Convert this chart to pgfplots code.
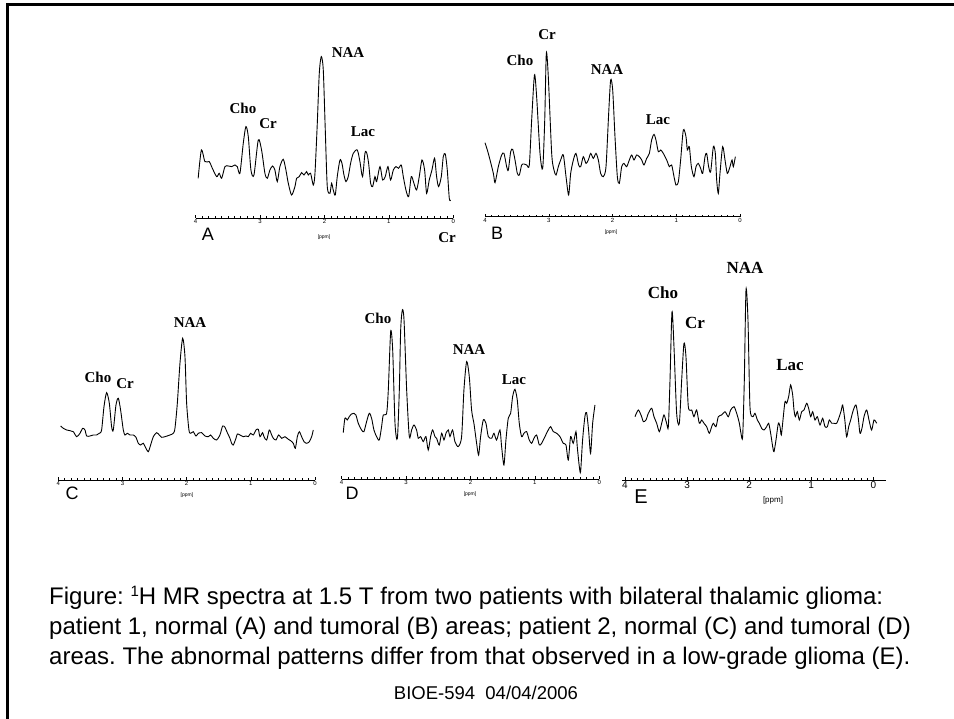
\documentclass[border=0pt]{standalone}
\usepackage{pgfplots}
\pgfplotsset{compat=1.18}
\usepackage{fontspec}
\setmainfont{Liberation Sans}
\newfontfamily\serifb{Liberation Serif}
\frenchspacing

% one MR spectrum: ppm runs right to left, height in px above the scale line
\pgfplotsset{spec/.style={
  anchor=south west, clip=false,
  x dir=reverse, y=1pt,
  axis y line=none, axis x line*=bottom,
  xmin=0, xmax=4, ymin=0, ymax=190,
  xtick={0,1,2,3,4}, minor x tick num=9,
  tick align=inside, major tick length=3pt, minor tick length=2pt,
  every tick/.style={black, line width=0.5pt},
  axis line style={black, line width=0.8pt},
  tick label style={font=\fontsize{6}{6}\selectfont, inner sep=1pt},
  /pgf/number format/assume math mode=true,
  every axis plot post/.append style={black, line width=0.9pt, mark=none, smooth, tension=0.45},
}}
\newcommand{\met}[1]{\serifb\bfseries\fontsize{15}{15}\selectfont #1}
\newcommand{\mete}[1]{\serifb\bfseries\fontsize{17}{17}\selectfont #1}
\newcommand{\ppm}{\fontsize{5}{5}\selectfont [ppm]}

\begin{document}
\begin{tikzpicture}[x=1pt,y=1pt]
\path[use as bounding box] (0,0) rectangle (954,719);
\draw[line width=3pt] (7,0) -- (7,714) -- (954,714);

% A
\begin{axis}[spec, at={(195.6pt,500.7pt)}, x=64.42pt]
\addplot coordinates {(3.96,40)(3.91,68.3)(3.855,56.7)(3.788,56.7)(3.752,51.7)(3.674,41.7)(3.633,45)(3.596,40)(3.544,51.7)(3.493,52.3)(3.441,51.7)(3.389,53.3)(3.353,51.7)(3.312,45)(3.26,75)(3.219,91.7)(3.182,81.7)(3.141,48.3)(3.094,43.3)(3.027,78.3)(2.976,68.3)(2.924,45)(2.887,40)(2.846,48.3)(2.805,52.3)(2.769,48.3)(2.732,36.7)(2.691,51.7)(2.639,59)(2.598,48.3)(2.561,35)(2.51,23.3)(2.458,31.7)(2.432,40)(2.391,41.7)(2.354,45.7)(2.318,43.3)(2.277,46.7)(2.251,43.3)(2.215,45)(2.173,33.3)(2.147,45)(2.111,95)(2.08,145)(2.049,161.7)(2.018,148.3)(1.987,88.3)(1.956,31.7)(1.915,25)(1.889,35)(1.863,28.3)(1.832,23.3)(1.801,41.7)(1.759,58.3)(1.728,55)(1.697,43.3)(1.666,36.7)(1.63,41.7)(1.594,55)(1.552,65)(1.49,68.3)(1.449,56.7)(1.408,41.7)(1.371,65)(1.345,65.7)(1.314,55)(1.283,35)(1.252,31.7)(1.216,41.7)(1.19,36.7)(1.138,51.7)(1.097,38.3)(1.056,41.7)(1.014,51.7)(0.973,38.3)(0.931,48.3)(0.89,51.7)(0.849,50)(0.807,53.3)(0.776,41.7)(0.735,28.3)(0.693,21.7)(0.652,41.7)(0.611,35)(0.569,28.3)(0.528,41.7)(0.486,58.3)(0.445,48.3)(0.414,25)(0.373,38.3)(0.331,48.3)(0.29,60)(0.259,41.7)(0.228,31.7)(0.186,41.7)(0.155,61.7)(0.124,64.3)(0.093,48.3)(0.062,20)(0.041,18.3)};
\end{axis}

% B
\begin{axis}[spec, at={(485pt,502.3pt)}, x=63.75pt]
\addplot coordinates {(4.0,74)(3.948,63.3)(3.869,43.3)(3.843,34)(3.791,50)(3.739,61.7)(3.702,63.3)(3.66,50)(3.634,46.7)(3.597,65)(3.566,67.3)(3.529,56.7)(3.493,43.3)(3.461,41.7)(3.425,51.7)(3.388,52.7)(3.346,51.7)(3.305,51.7)(3.268,96.7)(3.224,141.7)(3.19,120)(3.137,63.3)(3.095,48.3)(3.063,96.7)(3.038,163.3)(3.007,140)(2.954,63.3)(2.918,46.7)(2.886,41.7)(2.85,50)(2.813,56.7)(2.771,61.7)(2.729,40)(2.688,21.7)(2.656,43.3)(2.614,56.7)(2.573,63.3)(2.531,51.7)(2.499,50)(2.458,60)(2.416,53.3)(2.379,56.7)(2.342,63.3)(2.301,58.3)(2.259,63.3)(2.222,56.7)(2.186,43.3)(2.144,40)(2.102,50)(2.06,103.3)(2.029,136.7)(1.997,126.7)(1.961,80)(1.924,40)(1.893,33.3)(1.856,50)(1.82,53.3)(1.778,50)(1.736,56.7)(1.699,61.7)(1.663,56.7)(1.621,61.7)(1.579,60)(1.542,56.7)(1.506,51.7)(1.464,58.3)(1.422,63.3)(1.386,76.7)(1.349,82.3)(1.318,76.7)(1.281,65)(1.244,66.7)(1.203,63.3)(1.15,56.7)(1.108,50)(1.072,51.7)(1.035,40)(1.004,31.7)(0.967,35)(0.931,56.7)(0.889,86.7)(0.847,80)(0.826,66.7)(0.795,70)(0.763,50)(0.722,40)(0.69,50)(0.654,53.3)(0.617,48.3)(0.586,43.3)(0.549,60)(0.523,63.3)(0.492,50)(0.46,45)(0.418,70)(0.387,63.3)(0.366,36.7)(0.34,23.3)(0.314,43.3)(0.272,70)(0.235,56.7)(0.199,43.3)(0.157,50)(0.125,56.7)(0.105,50)(0.073,60)};
\end{axis}

% C
\begin{axis}[spec, at={(58.3pt,239pt)}, x=64.17pt]
\addplot coordinates {(3.964,54)(3.922,51.7)(3.87,50)(3.818,49.3)(3.766,48.3)(3.714,43.3)(3.662,46.7)(3.621,51.7)(3.584,50)(3.558,44)(3.506,44)(3.455,45)(3.403,45)(3.361,46.7)(3.325,50)(3.288,73.3)(3.247,87.3)(3.205,76.7)(3.169,53.3)(3.143,50)(3.101,75)(3.065,81.7)(3.029,70)(2.987,50)(2.961,45)(2.925,46.7)(2.883,45)(2.831,45)(2.79,42.7)(2.753,36.7)(2.717,35)(2.675,36.7)(2.634,31.7)(2.597,28.3)(2.561,35)(2.519,43.3)(2.468,47.3)(2.426,45)(2.39,42.7)(2.338,43.3)(2.26,45)(2.208,46.7)(2.182,51.7)(2.145,76.7)(2.104,116.7)(2.062,141.7)(2.026,123.3)(2.0,76.7)(1.964,50)(1.938,46.7)(1.896,48.3)(1.855,44)(1.818,46.7)(1.766,47.3)(1.714,44)(1.662,43.3)(1.626,45)(1.584,41.7)(1.532,40)(1.481,45)(1.439,54)(1.403,52.7)(1.366,47.3)(1.325,41.7)(1.299,36.7)(1.273,35)(1.231,41.7)(1.21,46)(1.169,45)(1.117,43.3)(1.075,44)(1.039,43.3)(1.003,46.7)(0.961,45)(0.919,50)(0.883,50.7)(0.857,43.3)(0.816,47.3)(0.795,43.3)(0.753,40)(0.712,50)(0.675,45)(0.649,41.7)(0.608,40)(0.566,45)(0.519,41.7)(0.468,43.3)(0.416,40.7)(0.379,39.3)(0.338,36.7)(0.306,31.7)(0.275,43.3)(0.244,48.3)(0.208,43.3)(0.171,38.3)(0.13,36.7)(0.088,38.3)(0.052,43.3)(0.026,50)};
\end{axis}

% D
\begin{axis}[spec, at={(341.6pt,239.7pt)}, x=64.42pt]
\addplot coordinates {(3.974,46.7)(3.948,61)(3.912,59.3)(3.881,62.7)(3.845,65.3)(3.809,66)(3.778,64.3)(3.741,56)(3.69,49.3)(3.653,47.7)(3.612,57.7)(3.57,66)(3.534,61)(3.498,49.3)(3.457,42.7)(3.415,39.3)(3.379,52.7)(3.353,64.3)(3.301,66)(3.275,89.3)(3.238,147.7)(3.207,129.3)(3.171,56)(3.134,41)(3.104,89.3)(3.083,149.3)(3.057,169.3)(3.031,159.3)(2.99,89.3)(2.949,42.7)(2.913,49.3)(2.877,54.3)(2.836,49.3)(2.81,41)(2.774,42.7)(2.732,37.7)(2.691,42.7)(2.655,29.3)(2.618,42.7)(2.587,49.3)(2.551,42.7)(2.525,41)(2.484,34.3)(2.447,46)(2.411,39.3)(2.38,46)(2.344,49.3)(2.318,42.7)(2.277,49.3)(2.241,37.7)(2.189,32.7)(2.137,42.7)(2.101,89.3)(2.059,117.7)(2.018,102.7)(1.982,69.3)(1.946,56)(1.904,36)(1.873,24.3)(1.842,42.7)(1.801,59.3)(1.759,56)(1.723,42.7)(1.671,41)(1.635,46)(1.594,39.3)(1.542,49.3)(1.516,32.7)(1.48,14.3)(1.449,39.3)(1.413,61)(1.376,66)(1.345,82.7)(1.309,90)(1.273,79.3)(1.242,56)(1.206,42.7)(1.169,46)(1.128,47.7)(1.087,39.3)(1.05,36)(1.014,41)(0.973,44.3)(0.931,34.3)(0.895,36)(0.843,42.7)(0.792,49.3)(0.756,52.7)(0.714,47.7)(0.662,46)(0.611,42.7)(0.559,36)(0.517,34.3)(0.481,19.3)(0.445,42.7)(0.404,36)(0.362,47.7)(0.342,32.7)(0.31,12.7)(0.29,7.7)(0.259,39.3)(0.223,62.7)(0.197,66.7)(0.166,49.3)(0.135,26)(0.103,56)(0.067,74.3)};
\end{axis}

% E
\begin{axis}[spec, at={(621.9pt,239pt)}, x=62.08pt, xmin=-0.2, xmax=4.05,
  tick label style={font=\fontsize{10}{10}\selectfont}]
\addplot coordinates {(3.839,63.3)(3.785,70)(3.732,63.3)(3.705,58.3)(3.662,60)(3.624,66.7)(3.57,71.7)(3.533,63.3)(3.49,56.7)(3.447,48.3)(3.409,56.7)(3.372,65)(3.329,56.7)(3.302,53.3)(3.275,100)(3.243,168.3)(3.211,133.3)(3.168,66.7)(3.125,56.7)(3.087,100)(3.05,136.7)(3.018,123.3)(2.98,73.3)(2.926,70)(2.889,63.3)(2.846,70)(2.803,56.7)(2.765,60)(2.728,56.7)(2.685,53.3)(2.642,46.7)(2.604,53.3)(2.577,56.7)(2.534,53.3)(2.497,63.3)(2.443,65)(2.389,68.3)(2.336,63.3)(2.298,70)(2.244,73.3)(2.201,66.7)(2.158,56.7)(2.132,46.7)(2.105,43.3)(2.078,100)(2.051,190)(2.019,160)(1.987,73.3)(1.944,63.3)(1.906,66.7)(1.868,60)(1.836,56.7)(1.799,51.7)(1.761,50)(1.718,53.3)(1.686,56.7)(1.654,46.7)(1.621,33.3)(1.6,28.3)(1.568,40)(1.53,56.7)(1.503,53.3)(1.482,45)(1.45,63.3)(1.423,78.3)(1.396,76.7)(1.364,83.3)(1.332,95)(1.299,85)(1.278,70)(1.256,63.3)(1.224,68.3)(1.192,60)(1.154,68.3)(1.117,70)(1.074,76.7)(1.042,71.7)(1.009,63.3)(0.977,68.3)(0.94,60)(0.902,63.3)(0.859,55)(0.816,61.7)(0.779,53.3)(0.741,53.3)(0.709,60)(0.671,56.7)(0.634,56.7)(0.591,56.7)(0.548,63.3)(0.515,70)(0.494,75)(0.462,61.7)(0.43,43.3)(0.397,53.3)(0.365,60)(0.322,70)(0.279,75)(0.242,61.7)(0.215,46.7)(0.183,51.7)(0.15,63.3)(0.107,70)(0.064,58.3)(0.027,50)(-0.011,60)(-0.054,56.7)};
\end{axis}

% peak names
\node at (243,611) {\met{Cho}};
\node at (268,595) {\met{Cr}};
\node at (348,666) {\met{NAA}};
\node at (363,587) {\met{Lac}};
\node at (447,481) {\met{Cr}};
\node at (520,659) {\met{Cho}};
\node at (547,684) {\met{Cr}};
\node at (607,649) {\met{NAA}};
\node at (658,599) {\met{Lac}};
\node at (98,342) {\met{Cho}};
\node at (125,335) {\met{Cr}};
\node at (190,396) {\met{NAA}};
\node at (378,401) {\met{Cho}};
\node at (469,369) {\met{NAA}};
\node at (514,339) {\met{Lac}};
\node at (663,426) {\mete{Cho}};
\node at (695,396) {\mete{Cr}};
\node at (745,451) {\mete{NAA}};
\node at (790,354) {\mete{Lac}};

% panel letters and units
\node[font=\fontsize{18}{18}\selectfont] at (208,485) {A};
\node[font=\fontsize{18}{18}\selectfont] at (497,486) {B};
\node[font=\fontsize{18}{18}\selectfont] at (72,226) {C};
\node[font=\fontsize{18}{18}\selectfont] at (352,226) {D};
\node[font=\fontsize{20}{20}\selectfont] at (641,222) {E};
\node at (324,482) {\ppm};
\node at (611,487) {\ppm};
\node at (187,224) {\ppm};
\node at (470,225) {\ppm};
\node[font=\fontsize{8}{8}\selectfont] at (773,219) {[ppm]};

% caption and footer
\begin{scope}[every node/.style={anchor=base west, inner sep=0pt, font=\fontsize{24}{30}\selectfont}]
\node at (49,114) {Figure: {\fontsize{15}{15}\selectfont\raisebox{0.55em}{1}}H MR spectra at 1.5 T from two patients with bilateral thalamic glioma:};
\node at (49,84) {patient 1, normal (A) and tumoral (B) areas; patient 2, normal (C) and tumoral (D)};
\node at (49,54) {areas. The abnormal patterns differ from that observed in a low-grade glioma (E).};
\end{scope}
\node[anchor=base, inner sep=0pt, font=\fontsize{18.5}{18.5}\selectfont] at (486,19) {BIOE-594\ \ 04/04/2006};
\end{tikzpicture}
\end{document}
